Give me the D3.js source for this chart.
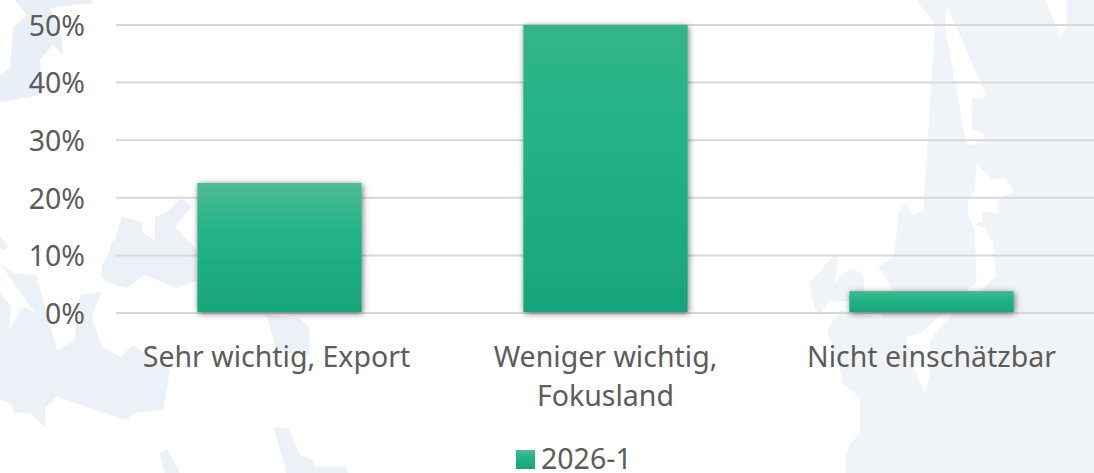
<!DOCTYPE html>
<html><head><meta charset="utf-8">
<script src="https://cdn.jsdelivr.net/npm/d3@7"></script>
<style>html,body{margin:0;padding:0;background:#fff;overflow:hidden}svg{display:block}
.t{font-family:"Noto Sans",sans-serif;fill:#5c5c5c}</style></head>
<body><svg id="c" width="1094" height="473"></svg>
<script>
const categories=["Sehr wichtig, Export","Weniger wichtig, Fokusland","Nicht einschätzbar"];
const categoryLines=[["Sehr wichtig, Export"],["Weniger wichtig,","Fokusland"],["Nicht einschätzbar"]];
const values=[22.6,50,3.8];
const yTicks=[0,10,20,30,40,50];
const seriesName="2026-1";
const svg=d3.select("#c");
const W=1094,H=473;
// Decorative faint map backdrop
const bgTop="15,0 27,15 13,28 10,68 0,75 0,102 42,95 40,60 53,45 63,55 62,37 50,8 93,3 90,0";
const bgLow=[
 "0,295 30,295 62,240 78,230 105,248 172,362 225,330 228,265 240,195 305,185 275,260 305,350 360,380 400,345 510,420 490,540 405,548 378,570 170,500 135,535 135,590 90,548 45,548 30,518 0,510",
 "0,100 40,130 108,135 172,362 105,248",
 "0,190 35,230 28,295 0,295",
 "0,20 25,50 10,62 0,55",
 "305,110 330,60 335,35 345,30 365,-40 425,-25 430,10 465,30 465,-40 495,-50 545,-95 575,-70 525,-10 590,60 590,150 530,175 435,135 380,175 330,160 305,140",
 "800,255 895,265 928,290 928,375 830,365",
 "820,590 865,595 900,675 940,690 945,710 1035,710 1045,729 860,729",
 "478,670 500,657 540,729 495,729"];
const bgRight="650,0 705,75 670,630 640,645 618,610 598,630 588,720 580,770 535,800 580,870 545,955 420,930 380,990 415,1090 430,1150 480,1195 480,1300 450,1330 437,1375 437,1419 1182,1419 1182,0";
const bgRightExtra="330,850 400,765 415,775 405,850 430,820 460,805 490,825 495,900 385,905 355,950 335,895";
const bgWhite=[
 "740,15 860,290 815,295 815,385 850,400 855,430 800,435 735,80",
 "830,490 875,540 915,535 945,575 895,595 895,640 850,635 845,665 820,675 855,685 880,735 888,830 730,970 690,1020 690,1120 675,1180 630,1080 620,1010 660,1000 700,965 830,845 825,690 805,645 805,600 825,570",
 "1035,0 1080,105 1100,85 1100,0"];
const bg=svg.append("g");
bg.append("polygon").attr("points",bgTop).attr("fill","#e9eff6");
const bl=bg.append("g").attr("transform","translate(0,230) scale(0.3333)");
bl.selectAll("polygon").data(bgLow).join("polygon").attr("points",d=>d).attr("fill","#ecf1f7");
const br=bg.append("g").attr("transform","translate(700,0) scale(0.3333)");
br.append("polygon").attr("points",bgRight).attr("fill","#f0f4f8");
br.append("polygon").attr("points",bgRightExtra).attr("fill","#f0f4f8");
br.selectAll(".w").data(bgWhite).join("polygon").attr("points",d=>d).attr("fill","#fff");
// defs
const defs=svg.append("defs");
const grads=[["g0","#52ba94","#24b488"],["g1","#33b58a","#22b487"],["g2","#45b990","#22b487"]];
grads.forEach(([id,a,b])=>{
 const g=defs.append("linearGradient").attr("id",id).attr("x1",0).attr("y1",0).attr("x2",0).attr("y2",1);
 g.append("stop").attr("offset","0%").attr("stop-color",a);
 g.append("stop").attr("offset","35%").attr("stop-color",b);
 g.append("stop").attr("offset","100%").attr("stop-color","#18a57b");
});
const sh=defs.append("filter").attr("id","sh").attr("x","-10%").attr("y","-30%").attr("width","120%").attr("height","160%");
sh.append("feDropShadow").attr("dx",1).attr("dy",1.5).attr("stdDeviation",3).attr("flood-color","#000").attr("flood-opacity",.55);
// scales
const x=d3.scaleBand().domain(categories).range([116.5,1094.5]).paddingInner(.496).paddingOuter(.248);
const y=d3.scaleLinear().domain([0,50]).range([313,25]);
// y axis and gridlines
const ya=svg.append("g").attr("transform","translate(116,0)").call(d3.axisLeft(y).tickValues(yTicks).tickFormat(d=>d+"%").tickSize(0).tickPadding(31));
ya.select(".domain").remove();
ya.selectAll("text").attr("class","t").attr("font-size",28.5).attr("dy","0.36em");
svg.append("g").selectAll("line").data(yTicks).join("line")
 .attr("x1",116).attr("x2",W).attr("y1",d=>y(d)).attr("y2",d=>y(d)).attr("stroke","#d9d9d9").attr("stroke-width",2);
// bars
svg.append("g").selectAll("rect").data(values).join("rect")
 .attr("x",(d,i)=>x(categories[i])).attr("width",x.bandwidth())
 .attr("y",d=>y(d)).attr("height",d=>y(0)-1-y(d))
 .attr("fill",(d,i)=>`url(#g${i})`).attr("filter","url(#sh)");
// x axis
const xa=svg.append("g").attr("transform","translate(0,313)").call(d3.axisBottom(x).tickSize(0).tickFormat(""));
xa.select(".domain").remove();
xa.selectAll(".tick").each(function(d,i){
 const t=d3.select(this).select("text").attr("class","t").attr("font-size",28.5).attr("text-anchor","middle").attr("y",0).attr("dy",null);
 categoryLines[i].forEach((s,k)=>t.append("tspan").attr("x",i===0?-3:0).attr("y",53.5+k*39).text(s));
});
// legend
const lg=svg.append("g");
lg.append("rect").attr("x",516).attr("y",450).attr("width",19).attr("height",19).attr("fill","url(#g0)");
lg.append("text").attr("class","t").attr("x",541).attr("y",468.5).attr("font-size",28.5).text(seriesName);
</script></body></html>
